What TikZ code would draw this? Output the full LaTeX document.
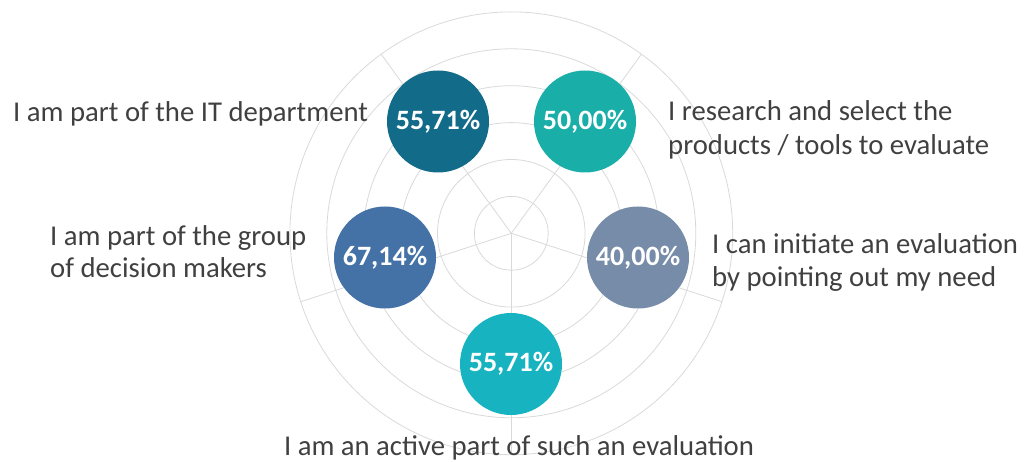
\documentclass[tikz,border=0pt]{standalone}
\usepackage{fontspec}
\setmainfont{Carlito}
\definecolor{gridc}{HTML}{D9D9D9}
\definecolor{txt}{HTML}{404040}
\definecolor{cA}{HTML}{136B8A}
\definecolor{cB}{HTML}{19AEA8}
\definecolor{cC}{HTML}{4472A6}
\definecolor{cD}{HTML}{778CA8}
\definecolor{cE}{HTML}{17B3C0}
\begin{document}
\begin{tikzpicture}[x=1pt,y=1pt,
  grid/.style={draw=gridc, line width=0.8pt},
  bubble/.style={circle, minimum size=102pt, inner sep=0pt, text=white, font=\fontsize{28}{30}\selectfont\bfseries},
  lbl/.style={text=txt, font=\fontsize{28.7}{33}\selectfont, inner sep=0pt}]
\useasboundingbox (0,0) rectangle (1026,461);
\coordinate (c) at (511.3,227.7);
\foreach \r in {36.9,73.8,110.7,147.6,184.5,221.4}
  \draw[grid] (c) circle (\r);
\foreach \a in {270,342,54,126,198}
  \draw[grid] (c) -- ++(\a:221.4);
\node[bubble, fill=cA] (b1) at (438,339.5) {55,71\%};
\node[bubble, fill=cB] (b2) at (585,339.5) {50,00\%};
\node[bubble, fill=cC] (b3) at (385,203.5) {67,14\%};
\node[bubble, fill=cD] (b4) at (638,203.5) {40,00\%};
\node[bubble, fill=cE] (b5) at (511,97) {55,71\%};
\node[lbl, anchor=base west] (l1) at (13,339.3) {I am part of the IT department};
\node[lbl, anchor=base west] (l2a) at (50,215.5) {I am part of the group};
\node[lbl, anchor=base west] (l2b) at (50,183) {of decision makers};
\node[lbl, anchor=base west] (l3a) at (668,340.5) {I research and select the};
\node[lbl, anchor=base west] (l3b) at (668,306) {products / tools to evaluate};
\node[lbl, anchor=base west] (l4a) at (712,207.5) {I can initiate an evaluation};
\node[lbl, anchor=base west] (l4b) at (712,174.5) {by pointing out my need};
\node[lbl, anchor=base] (l5) at (519,6) {I am an active part of such an evaluation};
\end{tikzpicture}
\end{document}
